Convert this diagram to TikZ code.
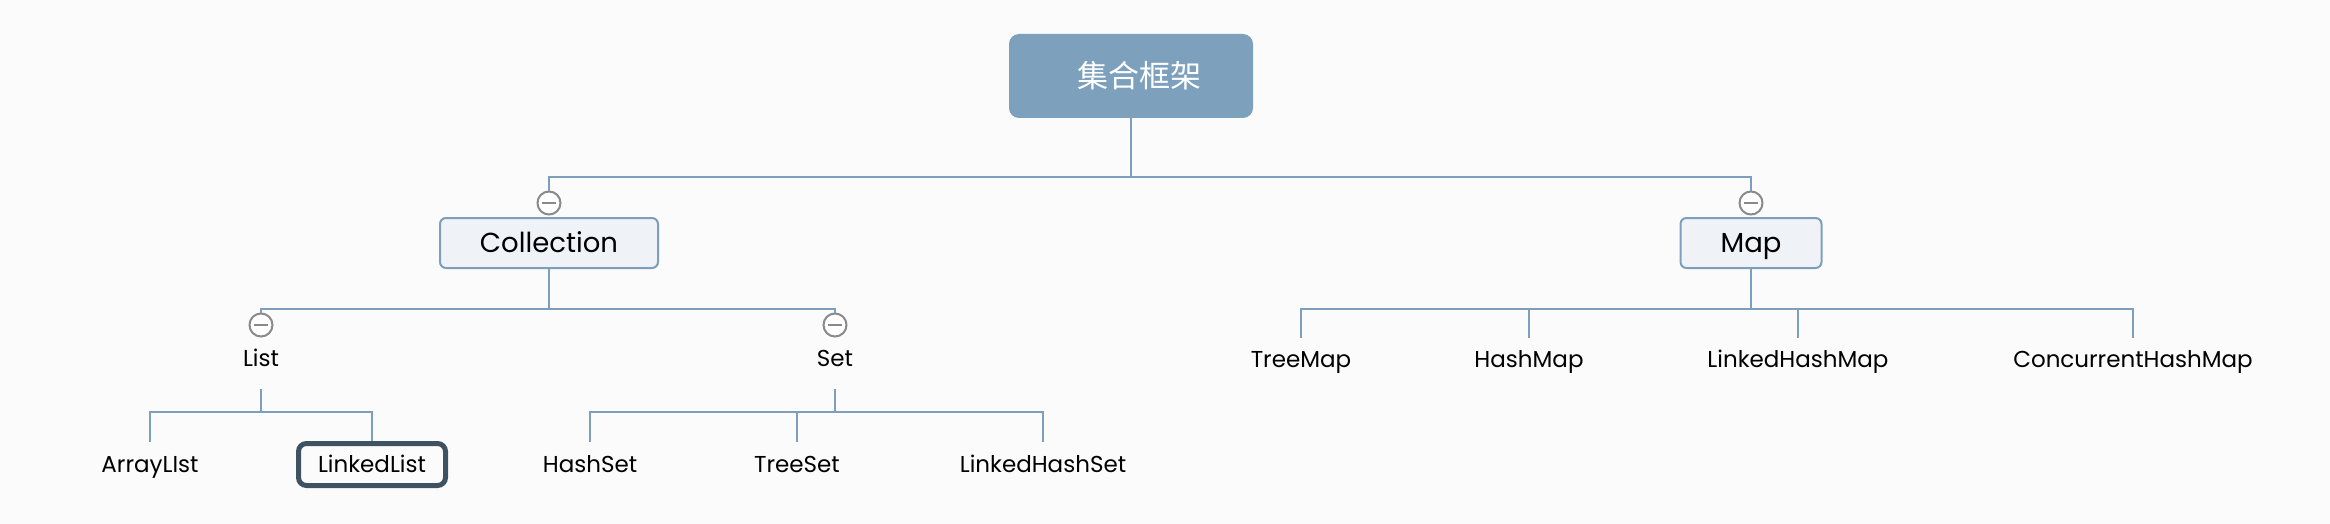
\documentclass[tikz,border=0pt]{standalone}
\usepackage{fontspec}
\setmainfont{Poppins}
\newfontfamily\cjk{Noto Sans CJK SC}
\definecolor{linec}{HTML}{7D9FBC}
\definecolor{rootc}{HTML}{7DA0BD}
\definecolor{boxfill}{HTML}{EFF3F7}
\definecolor{circc}{HTML}{8A8A8A}
\definecolor{selc}{HTML}{3F5262}
\definecolor{bgc}{HTML}{FBFBFB}
\newcommand\leaffont{\fontsize{23}{27}\selectfont}
\newcommand\midfont{\fontsize{27.5}{32}\selectfont}
\tikzset{
  conn/.style={draw=linec, line width=2pt},
  rootbox/.style={fill=rootc, rounded corners=10pt, minimum width=244pt, minimum height=84pt, inner sep=0pt, text=white, font=\cjk\fontsize{31}{36}\selectfont},
  midbox/.style={draw=linec, fill=boxfill, line width=2pt, rounded corners=6pt, minimum height=50pt, inner sep=0pt, text height=20pt, text depth=2pt, font=\midfont},
  circ/.style={circle, draw=circc, fill=white, line width=2pt, minimum size=23pt, inner sep=0pt,
    path picture={\draw[circc, line width=2pt] ([xshift=-7pt]path picture bounding box.center) -- ([xshift=7pt]path picture bounding box.center);}},
  subnode/.style={font=\leaffont, minimum height=62pt, inner sep=0pt, text height=18pt, text depth=2pt},
  leaf/.style={font=\leaffont, minimum height=44pt, inner sep=0pt, text height=18pt, text depth=2pt},
  mleaf/.style={font=\leaffont, minimum height=42pt, inner sep=0pt, text height=18pt, text depth=2pt},
  selbox/.style={draw=selc, line width=5pt, rounded corners=8pt, minimum width=147pt, minimum height=42pt, inner sep=0pt, text height=18pt, text depth=2pt, font=\leaffont}
}
\begin{document}
\begin{tikzpicture}[x=1pt,y=-1pt]
\fill[bgc] (0,0) rectangle (2330,524);
\useasboundingbox (0,0) rectangle (2330,524);
% root
\node[rootbox] (root) at (1131,76) {\hspace*{16pt}集合框架};
% level 1
\node[circ] (cc) at (549,203) {};
\node[midbox, minimum width=218pt] (col) at (549,243) {Collection};
\node[circ] (mc) at (1751,203) {};
\node[midbox, minimum width=141pt] (map) at (1751,243) {Map};
% level 2
\node[subnode] (list) at (261,358) {List};
\node[circ] (lc) at (261,325) {};
\node[subnode] (set) at (835,358) {Set};
\node[circ] (sc) at (835,325) {};
% leaves
\node[leaf] (al) at (150,464) {ArrayLIst};
\node[selbox] (ll) at (372,464.5) {LinkedList};
\node[leaf] (hs) at (590,464) {HashSet};
\node[leaf] (ts) at (797,464) {TreeSet};
\node[leaf] (lhs) at (1043,464) {LinkedHashSet};
\node[mleaf] (tm) at (1301,359) {TreeMap};
\node[mleaf] (hm) at (1529,359) {HashMap};
\node[mleaf] (lhm) at (1798,359) {LinkedHashMap};
\node[mleaf] (chm) at (2133,359) {ConcurrentHashMap};
% buses
\coordinate (b1) at (1131,177);
\coordinate (b2) at (549,309);
\coordinate (b3) at (261,412);
\coordinate (b4) at (835,412);
\coordinate (b5) at (1751,309);
% connectors
\draw[conn] (root.south) -- (b1);
\draw[conn] (b1) -| (cc.north);
\draw[conn] (b1) -| (mc.north);
\draw[conn] (col.south) -- (b2);
\draw[conn] (b2) -| (lc.north);
\draw[conn] (b2) -| (sc.north);
\draw[conn] (list.south) -- (b3);
\draw[conn] (b3) -| (al.north);
\draw[conn] (b3) -| (ll.north);
\draw[conn] (set.south) -- (b4);
\draw[conn] (b4) -| (hs.north);
\draw[conn] (b4) -| (ts.north);
\draw[conn] (b4) -| (lhs.north);
\draw[conn] (map.south) -- (b5);
\draw[conn] (b5) -| (tm.north);
\draw[conn] (b5) -| (hm.north);
\draw[conn] (b5) -| (lhm.north);
\draw[conn] (b5) -| (chm.north);
\end{tikzpicture}
\end{document}
